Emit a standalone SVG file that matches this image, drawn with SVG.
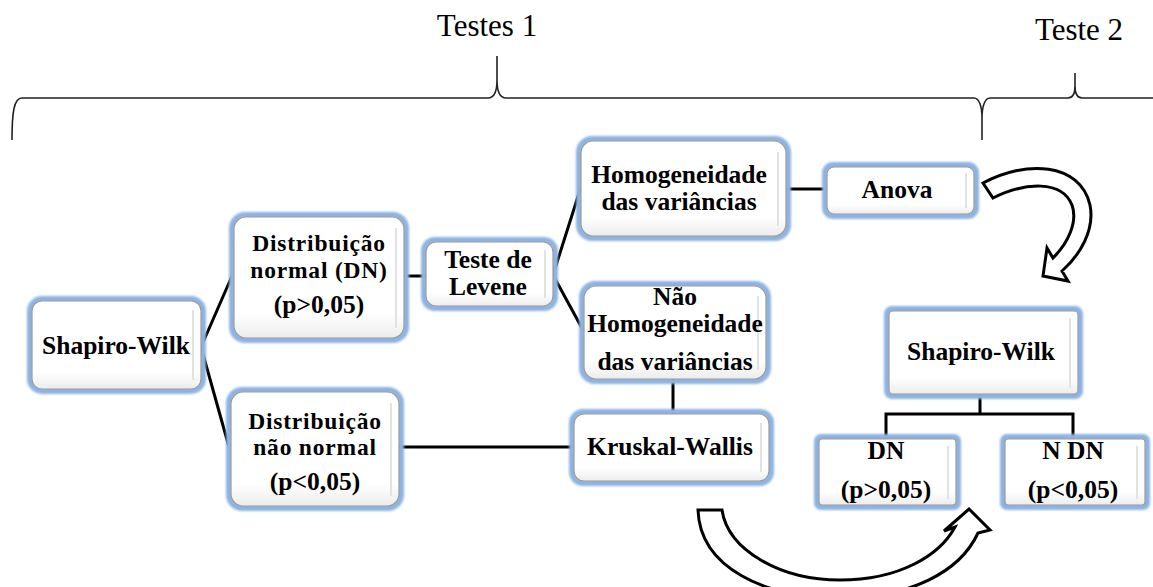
<svg xmlns="http://www.w3.org/2000/svg" width="1153" height="587" viewBox="0 0 1153 587">
<style>
.glow{fill:none;stroke:#8db3e2;stroke-width:6;filter:url(#soft)}
.box{fill:url(#bg);stroke:#9a9a9a;stroke-width:1.2}
.bev{stroke:#e2e2e2;stroke-width:2}
.t{font-family:"Liberation Serif","Times New Roman",serif;font-weight:bold;font-size:25.5px;fill:#000;text-anchor:middle}
.s{font-size:23.5px;letter-spacing:0.8px}
.h{font-family:"Liberation Serif","Times New Roman",serif;font-size:31px;fill:#000;text-anchor:middle}
.c{stroke:#000;stroke-width:3;fill:none}
.br{stroke:#222;stroke-width:1.6;fill:none}
.arr{fill:#fff;stroke:#000;stroke-width:3;stroke-linejoin:miter}
</style>
<defs>
<linearGradient id="bg" x1="0" y1="0" x2="0" y2="1">
<stop offset="0" stop-color="#ffffff"/>
<stop offset="0.8" stop-color="#ffffff"/>
<stop offset="1" stop-color="#ececec"/>
</linearGradient>
<filter id="soft" x="-10%" y="-10%" width="120%" height="120%">
<feGaussianBlur stdDeviation="0.8"/>
</filter>
</defs>
<rect width="1153" height="587" fill="#fff"/>

<g id="brace">
<path class="br" d="M12,140 C12,112 14,98 22,98 L488,98 C494,98 497,92 497,80 L497,56 M497,80 C497,92 500,98 506,98 L974,98 C979,98 982,106 982,118 L982,140 M982,118 C982,106 985,98 990,98 L1068,98 C1072,98 1075,94 1075,86 L1075,73 M1075,86 C1075,94 1078,98 1082,98 L1153,98"/>
<text class="h" x="487" y="36">Testes 1</text>
<text class="h" x="1079" y="40">Teste 2</text>
</g>

<g id="connectors">
<path class="c" d="M201,347 L232,276 M201,347 L229,447"/>
<path class="c" d="M404,276 L426,276"/>
<path class="c" d="M553,275 L580,190 M553,275 L583,330"/>
<path class="c" d="M786,189 L827,189"/>
<path class="c" d="M673,379 L673,414"/>
<path class="c" d="M399,447 L574,447"/>
<path class="c" d="M980,394 L980,414 M886,439 L886,414 L1073,414 L1073,439"/>
<path id="arrow-top" class="arr" d="M983,183 C1025,160 1080,162 1090,205 C1095,230 1080,255 1062,271 L1068,281 L1043,276 L1047,248 L1053,258 C1068,243 1078,222 1072,205 C1062,180 1025,182 993,198 Z"/>
<path id="arrow-bottom" class="arr" d="M698,510 L722,510 C728,550 780,580 840,580 C900,580 940,555 955,527 L944,531 L969,509 L990,530 L978,533 C960,572 910,598 840,598 C765,598 700,568 698,510 Z"/>
</g>

<g id="n-sw1">
<rect class="glow" x="30" y="299" width="173" height="92" rx="12"/>
<rect class="box" x="32" y="301" width="169" height="88" rx="10"/>
<line class="bev" x1="193" y1="310" x2="193" y2="380"/>
<text class="t" x="116" y="354">Shapiro-Wilk</text>
</g>

<g id="n-dn">
<rect class="glow" x="232" y="215" width="174" height="125" rx="13"/>
<rect class="box" x="234" y="217" width="170" height="121" rx="12"/>
<line class="bev" x1="396" y1="228" x2="396" y2="328"/>
<text class="t s" x="319" y="251">Distribuição</text>
<text class="t s" x="319" y="278">normal (DN)</text>
<text class="t" x="319" y="313">(p&gt;0,05)</text>
</g>

<g id="n-nn">
<rect class="glow" x="229" y="390" width="172" height="118" rx="13"/>
<rect class="box" x="231" y="392" width="168" height="114" rx="12"/>
<line class="bev" x1="391" y1="403" x2="391" y2="496"/>
<text class="t s" x="315" y="429">Distribuição</text>
<text class="t s" x="315" y="455">não normal</text>
<text class="t" x="315" y="490">(p&lt;0,05)</text>
</g>

<g id="n-levene">
<rect class="glow" x="424" y="240" width="131" height="68" rx="11"/>
<rect class="box" x="426" y="242" width="127" height="64" rx="10"/>
<line class="bev" x1="545" y1="250" x2="545" y2="298"/>
<text class="t" x="488" y="268">Teste de</text>
<text class="t" x="488" y="295">Levene</text>
</g>

<g id="n-homog">
<rect class="glow" x="579" y="139" width="209" height="99" rx="13"/>
<rect class="box" x="581" y="141" width="205" height="95" rx="12"/>
<line class="bev" x1="778" y1="152" x2="778" y2="226"/>
<text class="t" x="679" y="183">Homogeneidade</text>
<text class="t" x="679" y="210">das variâncias</text>
</g>

<g id="n-nhomog">
<rect class="glow" x="582" y="284" width="186" height="97" rx="13"/>
<rect class="box" x="584" y="286" width="182" height="93" rx="12"/>
<line class="bev" x1="758" y1="296" x2="758" y2="370"/>
<text class="t" x="675" y="305">Não</text>
<text class="t" x="675" y="332">Homogeneidade</text>
<text class="t" x="675" y="370">das variâncias</text>
</g>

<g id="n-anova">
<rect class="glow" x="825" y="165" width="151" height="51" rx="8"/>
<rect class="box" x="827" y="167" width="147" height="47" rx="7"/>
<line class="bev" x1="966" y1="173" x2="966" y2="208"/>
<text class="t" x="897" y="198">Anova</text>
</g>

<g id="n-kruskal">
<rect class="glow" x="572" y="412" width="199" height="71" rx="11"/>
<rect class="box" x="574" y="414" width="195" height="67" rx="10"/>
<line class="bev" x1="761" y1="423" x2="761" y2="472"/>
<text class="t" x="670" y="455">Kruskal-Wallis</text>
</g>

<g id="n-sw2">
<rect class="glow" x="887" y="309" width="193" height="87" rx="5"/>
<rect class="box" x="889" y="311" width="189" height="83" rx="4"/>
<line class="bev" x1="1070" y1="318" x2="1070" y2="388"/>
<text class="t" x="981" y="360">Shapiro-Wilk</text>
</g>

<g id="n-dn2">
<rect class="glow" x="817" y="437" width="141" height="70" rx="4"/>
<rect class="box" x="819" y="439" width="137" height="66" rx="3"/>
<line class="bev" x1="948" y1="446" x2="948" y2="499"/>
<text class="t" x="886" y="459">DN</text>
<text class="t" x="886" y="498">(p&gt;0,05)</text>
</g>

<g id="n-ndn">
<rect class="glow" x="1003" y="437" width="144" height="70" rx="4"/>
<rect class="box" x="1005" y="439" width="140" height="66" rx="3"/>
<line class="bev" x1="1137" y1="446" x2="1137" y2="499"/>
<text class="t" x="1073" y="459">N DN</text>
<text class="t" x="1073" y="498">(p&lt;0,05)</text>
</g>
</svg>
